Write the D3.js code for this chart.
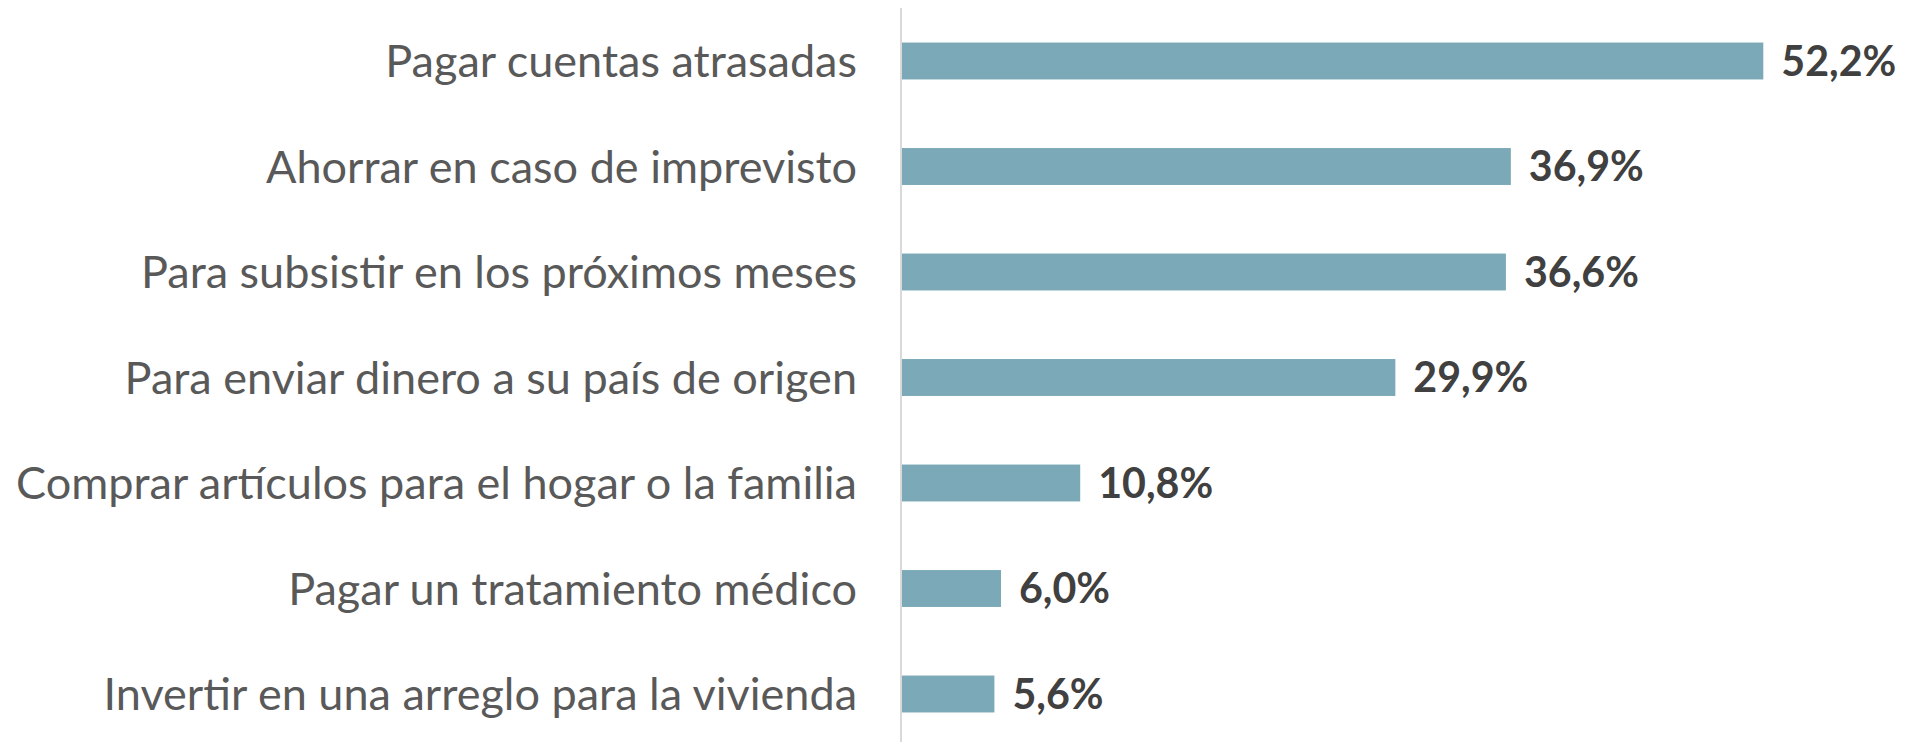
<!DOCTYPE html>
<html>
<head>
<meta charset="utf-8">
<script src="https://cdn.jsdelivr.net/npm/d3@7"></script>
<style>
  html, body { margin: 0; padding: 0; background: #ffffff; }
  svg { display: block; }
</style>
</head>
<body>
<svg id="chart" width="1916" height="742"></svg>
<script>
const categories = [
  "Pagar cuentas atrasadas",
  "Ahorrar en caso de imprevisto",
  "Para subsistir en los próximos meses",
  "Para enviar dinero a su país de origen",
  "Comprar artículos para el hogar o la familia",
  "Pagar un tratamiento médico",
  "Invertir en una arreglo para la vivienda"
];
const values = [52.2, 36.9, 36.6, 29.9, 10.8, 6.0, 5.6];
const valueLabels = ["52,2%", "36,9%", "36,6%", "29,9%", "10,8%", "6,0%", "5,6%"];

const W = 1916, H = 742;
const svg = d3.select("#chart");
const FONT = "Lato, 'Open Sans', sans-serif";

const x = d3.scaleLinear().domain([0, 60]).range([902, 902 + 16.5 * 60]);
const y = d3.scaleBand().domain(categories).range([8.25, 8.25 + 105.5 * 7]).paddingInner(0.65).paddingOuter(0.325);

// axis line
svg.append("line")
  .attr("x1", 901).attr("x2", 901)
  .attr("y1", 8).attr("y2", H)
  .attr("stroke", "#d9d9d9").attr("stroke-width", 2);

// bars
svg.selectAll("rect.bar").data(values).enter().append("rect")
  .attr("class", "bar")
  .attr("x", x(0))
  .attr("y", (d, i) => y(categories[i]))
  .attr("width", d => x(d) - x(0))
  .attr("height", y.bandwidth())
  .attr("fill", "#7ba9b8");

// category labels
const cat = svg.selectAll("text.cat").data(categories).enter().append("text")
  .attr("class", "cat")
  .attr("x", 857)
  .attr("y", d => y(d) + y.bandwidth() / 2)
  .attr("dy", "0.36em")
  .attr("text-anchor", "end")
  .attr("font-family", FONT)
  .attr("font-size", 40)
  .attr("fill", "#595959")
  .text(d => d);
// fit size so the longest label spans the same width as the reference
let maxW = 0;
cat.each(function() { maxW = Math.max(maxW, this.getComputedTextLength()); });
const catSize = 40 * 841 / maxW;
cat.attr("font-size", catSize);

// value labels
const val = svg.selectAll("text.val").data(values).enter().append("text")
  .attr("class", "val")
  .attr("x", d => x(d) + 18)
  .attr("y", (d, i) => y(categories[i]) + y.bandwidth() / 2)
  .attr("dy", "0.36em")
  .attr("font-family", FONT)
  .attr("font-weight", "bold")
  .attr("font-size", 40)
  .attr("fill", "#404040")
  .text((d, i) => valueLabels[i]);
const w0 = val.nodes()[0].getComputedTextLength();
val.attr("font-size", 40 * 115 / w0);
</script>
</body>
</html>
